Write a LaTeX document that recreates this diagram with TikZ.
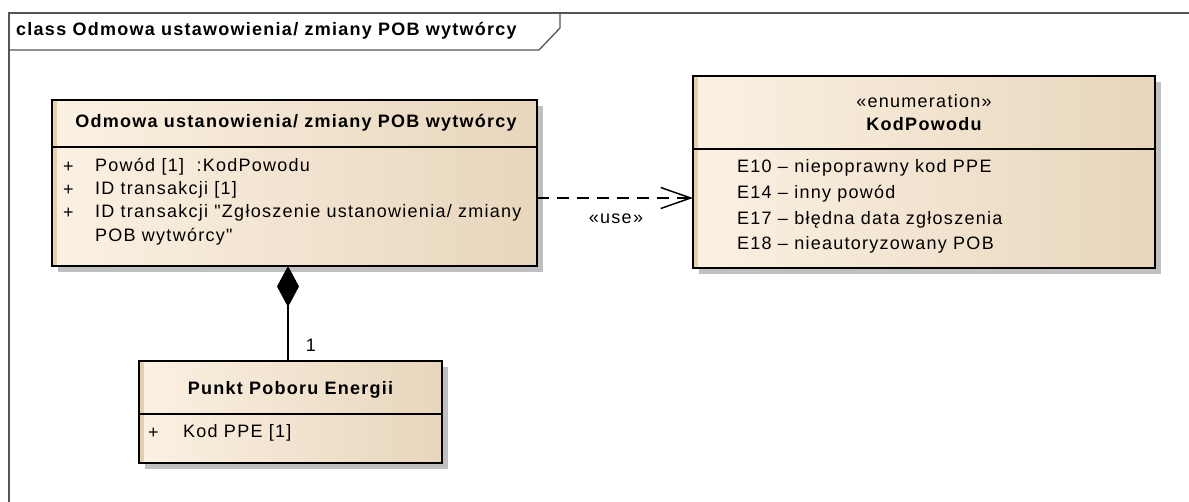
\documentclass[tikz,border=0pt]{standalone}
\usepackage{fontspec}
\setmainfont{Liberation Sans}[LetterSpace=7,Ligatures=TeXOff]
\usetikzlibrary{arrows.meta,calc}
\definecolor{boxL}{HTML}{FBF1E3}
\definecolor{boxR}{HTML}{E8D6BC}
\definecolor{stripc}{HTML}{E4CFB0}
\definecolor{shadowc}{HTML}{C0C0C0}
\definecolor{framec}{HTML}{555555}
\begin{document}
\begin{tikzpicture}[x=1pt,y=-1pt,
  classbox/.style={draw=black, line width=1.6pt, left color=boxL, right color=boxR,
    inner sep=0pt, outer sep=0pt},
  shadowbox/.style={fill=shadowc},
  stripbox/.style={fill=stripc},
  sepline/.style={draw=black, line width=1.4pt},
  txt/.style={font=\fontsize{18}{21}\selectfont, inner sep=0pt, anchor=west},
  btxt/.style={font=\fontsize{18}{21}\selectfont\bfseries, inner sep=0pt},
  ctxt/.style={font=\fontsize{18}{21}\selectfont, inner sep=0pt},
  framel/.style={draw=framec, line width=1.3pt},
  conn/.style={draw=black, line width=1.5pt},
  dep/.style={draw=black, line width=1.5pt, dash pattern=on 12pt off 8pt}
]
\useasboundingbox (0,0) rectangle (1189,502);
% frame
\draw[framel] (9,502) -- (9,13) -- (1189,13);
\draw[framel] (9,50) -- (539,50) -- (560,28) -- (560,13);
\node[btxt, anchor=west] (title) at (16,31) {class Odmowa ustawowienia/ zmiany POB wytwórcy};

% class A
\fill[shadowbox] (58,106) rectangle (543,272);
\node[classbox, minimum width=485pt, minimum height=166pt] (A) at (294.5,183) {};
\fill[stripbox] (53,101) rectangle (57,265);
\draw[sepline] (52,147) -- (537,147);
\draw[draw=black, line width=1.6pt] (A.north west) rectangle (A.south east);
\node[btxt] (Atitle) at (296,123) {Odmowa ustanowienia/ zmiany POB wytwórcy};
\node[txt] (Ap1) at (63,167) {+};
\node[txt] (Aa1) at (95,167) {Powód [1]\ \ :KodPowodu};
\node[txt] (Ap2) at (63,190) {+};
\node[txt] (Aa2) at (95,190) {ID transakcji [1]};
\node[txt] (Ap3) at (63,213) {+};
\node[txt] (Aa3) at (95,213) {ID transakcji "Zgłoszenie ustanowienia/ zmiany};
\node[txt] (Aa3b) at (95,237) {POB wytwórcy"};

% class B (enumeration)
\fill[shadowbox] (699,82) rectangle (1161,274);
\node[classbox, minimum width=462pt, minimum height=192pt] (B) at (924,172) {};
\fill[stripbox] (694,77) rectangle (698,267);
\draw[sepline] (693,149) -- (1155,149);
\draw[draw=black, line width=1.6pt] (B.north west) rectangle (B.south east);
\node[ctxt] (Bst) at (924,101) {«enumeration»};
\node[btxt] (Btitle) at (924,124) {KodPowodu};
\node[txt] (Bl1) at (737,168) {E10 – niepoprawny kod PPE};
\node[txt] (Bl2) at (737,194) {E14 – inny powód};
\node[txt] (Bl3) at (737,220) {E17 – błędna data zgłoszenia};
\node[txt] (Bl4) at (737,245) {E18 – nieautoryzowany POB};

% class C
\fill[shadowbox] (145,367) rectangle (448,469);
\node[classbox, minimum width=303pt, minimum height=102pt] (C) at (290.5,412) {};
\fill[stripbox] (140,362) rectangle (144,462);
\draw[sepline] (139,414) -- (442,414);
\draw[draw=black, line width=1.6pt] (C.north west) rectangle (C.south east);
\node[btxt] (Ctitle) at (290.5,390) {Punkt Poboru Energii};
\node[txt] (Cp1) at (148,433) {+};
\node[txt] (Ca1) at (183,433) {Kod PPE [1]};

% composition
\coordinate (dx) at (288,0);
\draw[conn, {Diamond[length=41pt,width=22pt,fill=black]}-] (A.south -| dx) -- (C.north -| dx);
\node[ctxt] (m1) at (311,345) {1};

% dependency
\coordinate (dy) at (0,198);
\draw[dep, -{Straight Barb[length=30pt,width=21pt,line width=1.5pt]}] (A.east |- dy) -- (B.west |- dy);
\node[ctxt] (use) at (616,219) {«use»};
\end{tikzpicture}
\end{document}
